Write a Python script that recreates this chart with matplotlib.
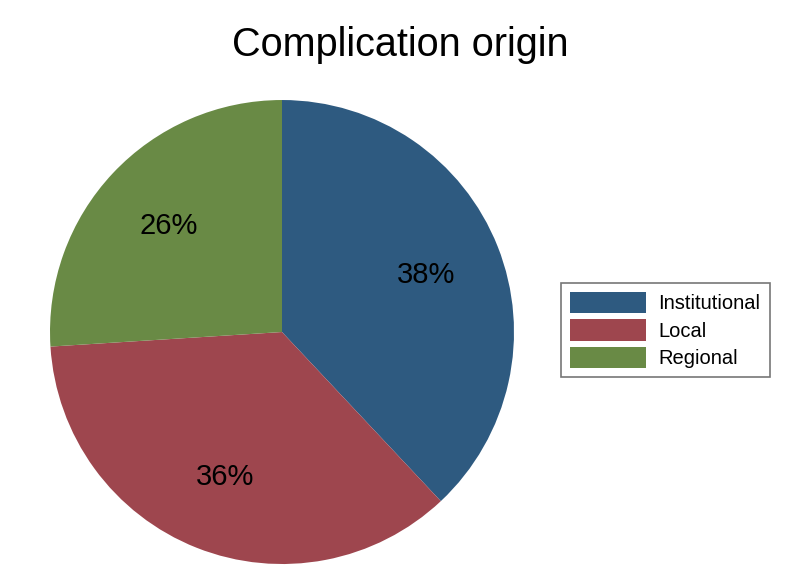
import matplotlib.pyplot as plt

plt.rcParams['font.family'] = ['Liberation Sans', 'DejaVu Sans']

# data
categories = ["Institutional", "Local", "Regional"]
shares = [38, 36, 26]
colors = ["#2e5a80", "#9e464e", "#698a45"]

fig = plt.figure(figsize=(8.0, 5.83), dpi=100)
ax = fig.add_axes([0.0625, 0.0325, 0.58, 0.796])

wedges, texts, autotexts = ax.pie(
    shares, colors=colors, startangle=90, counterclock=False,
    autopct="%d%%", pctdistance=0.67,
    wedgeprops=dict(linewidth=0),
    textprops=dict(fontsize=21, color="black"))
ax.set_xlim(-1, 1); ax.set_ylim(-1, 1)
ax.set_aspect("equal")

fig.text(0.5, 0.922, "Complication origin", ha="center", va="center", fontsize=28.5)

leg = fig.legend(wedges, categories, loc="center left", bbox_to_anchor=(0.701, 0.434),
                 borderaxespad=0,
                 fontsize=14.5, frameon=True, fancybox=False, edgecolor="#555555",
                 handlelength=3.8, handleheight=1.25, labelspacing=0.3,
                 borderpad=0.45, handletextpad=0.6)
leg.get_frame().set_linewidth(1.2)

fig.savefig("out.png", dpi=100)
